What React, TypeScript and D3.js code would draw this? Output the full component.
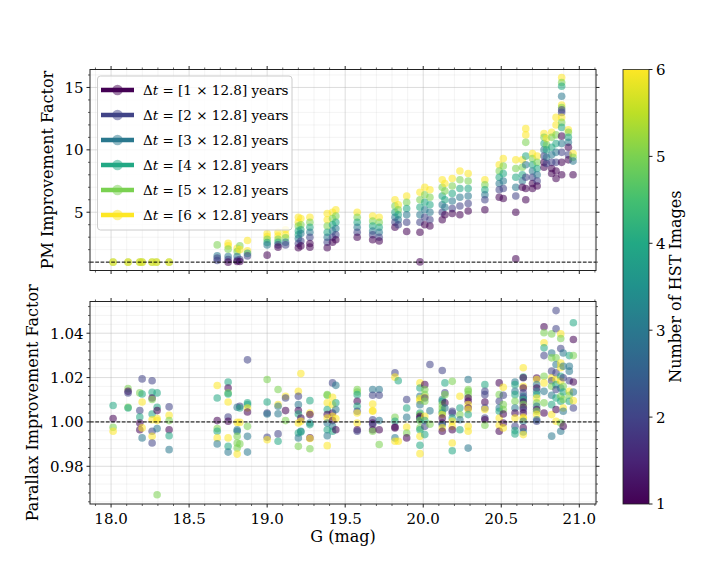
import React from "react";
import * as d3 from "d3";

// ---------- data ----------
const xTicks = [18.0, 18.5, 19.0, 19.5, 20.0, 20.5, 21.0];
const pmTicks = [5, 10, 15];
const pxTicks = [0.98, 1.0, 1.02, 1.04];
const cbTicks = [1, 2, 3, 4, 5, 6];
const legendSteps = [1, 2, 3, 4, 5, 6];

const pmG = [18.013, 18.109, 18.184, 18.199, 18.263, 18.291, 18.372, 18.68, 18.75, 18.808, 18.825, 18.874,
  19.0, 19.07, 19.118, 19.2, 19.216, 19.274, 19.385, 19.419, 19.44, 19.577, 19.676, 19.718, 19.819, 19.84,
  19.894, 19.979, 20.01, 20.043, 20.122, 20.139, 20.186, 20.235, 20.288, 20.395, 20.487, 20.513, 20.593,
  20.635, 20.657, 20.70, 20.73, 20.774, 20.79, 20.823, 20.851, 20.887, 20.93, 20.96];

const pmVals = [
  [1.0, 1.0], [1.0, 1.0], [1.0, 1.0], [1.0, 1.0], [1.0, 1.0], [1.0, 1.0], [1.0, 1.0],
  [2.38, 1.5, 1.32, 1.13],
  [2.52, 2.3, 2.04, 1.45, 1.2, 1.0],
  [2.1, 1.85, 1.45, 1.15, 1.05],
  [2.3, 2.0, 1.2, 1.05],
  [2.73, 1.9, 1.7, 1.5],
  [3.3, 3.05, 2.84, 2.57, 2.38, 1.56],
  [3.4, 3.1, 2.84, 2.6, 2.38, 2.2],
  [3.6, 3.2, 2.95, 2.6, 2.38],
  [4.6, 4.2, 3.9, 3.5, 3.2, 2.9, 2.5, 2.15],
  [4.5, 4.0, 3.6, 3.3, 2.7, 2.3],
  [4.6, 4.2, 3.8, 3.4, 3.0, 2.5, 2.2],
  [4.9, 4.4, 3.9, 3.4, 3.0, 2.6, 2.15],
  [5.0, 4.5, 4.0, 3.5, 3.0, 2.6],
  [5.2, 4.7, 4.2, 3.7, 3.2, 2.8],
  [5.0, 4.6, 4.2, 3.8, 3.4, 3.0],
  [4.7, 4.3, 3.9, 3.5, 3.2, 2.8],
  [4.6, 4.2, 3.8, 3.4, 3.0, 2.7],
  [6.0, 5.5, 5.0, 4.6, 4.2, 3.8],
  [5.6, 5.2, 4.8, 4.4, 4.0],
  [6.3, 5.8, 5.3, 4.8, 4.2, 3.45],
  [6.6, 6.0, 5.4, 4.8, 4.2, 3.4, 1.02],
  [7.0, 6.4, 5.8, 5.2, 4.6, 4.0],
  [6.8, 6.2, 5.6, 5.0, 4.4, 3.9],
  [7.6, 7.0, 6.3, 5.6, 5.0, 4.4],
  [7.3, 6.7, 6.0, 5.4, 4.8],
  [7.7, 7.1, 6.5, 5.9, 5.3, 4.9],
  [8.3, 7.6, 6.9, 6.2, 5.5, 4.8],
  [8.1, 7.5, 6.9, 6.3, 5.7, 5.1],
  [7.6, 7.2, 6.8, 6.4, 6.0, 5.2],
  [8.8, 8.3, 7.8, 7.3, 6.8, 6.2],
  [9.3, 8.7, 8.1, 7.5, 6.9, 6.1],
  [9.2, 8.5, 7.8, 7.0, 6.3, 5.0, 1.26],
  [9.2, 8.6, 8.0, 7.5, 7.0],
  [11.7, 11.2, 10.6, 9.5, 8.8, 7.8, 6.9, 6.0],
  [9.7, 9.3, 8.8, 8.3, 7.8, 7.3, 6.9],
  [9.5, 9.0, 8.5, 8.0, 7.5, 7.1],
  [11.3, 11.0, 10.5, 10.0, 9.5, 9.0, 8.6],
  [10.9, 10.4, 10.0, 9.4, 8.9],
  [11.4, 11.0, 10.2, 9.6, 9.0, 8.5, 8.1],
  [12.6, 12.0, 11.2, 10.5, 9.8, 9.0, 8.3, 7.7],
  [15.8, 15.4, 15.1, 14.3, 13.6, 13.4, 13.2, 13.0, 12.6, 12.2, 11.8, 11.1, 10.5, 9.8, 9.0, 8.0],
  [11.6, 11.4, 11.0, 10.6, 10.2, 9.6, 9.2],
  [9.7, 9.4, 9.1, 8.0],
];

const pmN = [
  [5, 6], [5, 6], [5, 6], [5, 6], [5, 6], [5, 6], [5, 6],
  [5, 3, 2, 2],
  [6, 6, 5, 3, 2, 1],
  [6, 5, 3, 2, 1],
  [5, 6, 2, 1],
  [6, 6, 4, 2],
  [6, 6, 5, 4, 3, 1],
  [6, 6, 5, 4, 2, 1],
  [6, 6, 5, 3, 2],
  [6, 6, 5, 4, 4, 3, 2, 1],
  [6, 5, 4, 3, 2, 1],
  [6, 5, 4, 3, 2, 1, 1],
  [6, 6, 5, 4, 3, 2, 1],
  [6, 5, 4, 3, 2, 1],
  [6, 5, 4, 3, 2, 1],
  [6, 5, 4, 3, 2, 1],
  [6, 5, 4, 3, 2, 1],
  [6, 5, 4, 3, 2, 1],
  [6, 5, 4, 3, 2, 1],
  [6, 5, 4, 3, 2],
  [6, 5, 4, 3, 2, 1],
  [6, 5, 4, 3, 2, 1, 1],
  [6, 5, 4, 3, 2, 1],
  [6, 5, 4, 3, 2, 1],
  [6, 5, 4, 3, 2, 1],
  [6, 5, 4, 3, 1],
  [6, 5, 4, 3, 2, 1],
  [6, 5, 4, 3, 2, 1],
  [6, 5, 4, 3, 2, 1],
  [6, 5, 4, 3, 2, 1],
  [6, 5, 4, 3, 2, 1],
  [6, 5, 4, 3, 2, 1],
  [6, 5, 4, 3, 2, 1, 1],
  [6, 5, 4, 3, 1],
  [6, 6, 5, 4, 3, 2, 1, 1],
  [6, 5, 4, 3, 2, 1, 1],
  [6, 5, 4, 3, 2, 1],
  [6, 5, 4, 3, 2, 1, 1],
  [6, 5, 4, 3, 2],
  [6, 5, 4, 3, 2, 1, 1],
  [6, 6, 5, 4, 3, 2, 1, 1],
  [6, 5, 4, 3, 6, 5, 2, 2, 6, 5, 4, 1, 3, 2, 1, 1],
  [6, 5, 4, 3, 1, 2, 1],
  [6, 5, 3, 1],
];

const pxG = [18.013, 18.109, 18.184, 18.199, 18.263, 18.295, 18.372, 18.68, 18.75, 18.808, 18.825, 18.874,
  19.0, 19.07, 19.118, 19.2, 19.216, 19.274, 19.385, 19.419, 19.44, 19.577, 19.676, 19.718, 19.819, 19.84,
  19.894, 19.979, 20.01, 20.043, 20.122, 20.139, 20.186, 20.235, 20.288, 20.395, 20.487, 20.513, 20.588,
  20.641, 20.727, 20.774, 20.823, 20.851, 20.881, 20.897, 20.936, 20.962];

const pxVals = [
  [1.0074, 1.0015, 0.9976, 0.9958],
  [1.0150, 1.0138, 1.0131, 1.0066, 1.0063],
  [1.0131, 1.0051, 1.0022, 0.9995, 0.9965],
  [1.0194, 1.0126, 1.0090, 0.9973, 0.9928],
  [1.0186, 1.0134, 1.0108, 1.0101, 1.0036, 1.0010, 0.9958, 0.9935, 0.9905],
  [1.0131, 1.0066, 1.0051, 1.0015, 1.0006, 0.9970, 0.9672],
  [1.0068, 1.0030, 1.0006, 0.9965, 0.9938, 0.9875],
  [1.0164, 1.0108, 1.0006, 0.9970, 0.9958, 0.9928, 0.9901],
  [1.0180, 1.0153, 1.0131, 1.0126, 1.0090, 1.0022, 1.0003, 0.9928, 0.9890, 0.9864],
  [1.0066, 0.9998, 0.9965, 0.9958, 0.9935, 0.9905, 0.9882, 0.9855],
  [1.0071, 1.0063, 0.9998, 0.9901],
  [1.0280, 1.0086, 1.0078, 1.0063, 1.0045, 0.9980, 0.9935, 0.9864],
  [1.0191, 1.0090, 1.0040, 1.0036, 0.9931, 0.9920],
  [1.0146, 1.0078, 1.0071, 1.0037, 0.9946, 0.9913],
  [1.0116, 1.0108, 1.0051, 1.0006],
  [1.0138, 1.0116, 1.0078, 1.0051, 1.0036, 0.9995, 0.9950, 0.9928, 0.9890],
  [1.0218, 1.0018, 1.0003, 0.9958, 0.9955],
  [1.0096, 1.0040, 1.0033, 0.9995, 0.9988, 0.9928, 0.9925, 0.9879],
  [1.0123, 1.0120, 1.0086, 1.0056, 1.0033, 1.0018, 0.9995, 0.9965, 0.9938, 0.9893],
  [1.0176, 1.0111, 1.0078, 1.0040, 1.0025, 1.0006, 0.9980, 0.9958],
  [1.0165, 1.0086, 1.0056, 1.0015, 0.9965],
  [1.0146, 1.0135, 1.0123, 1.0093, 1.0071, 1.0048, 1.0040, 0.9995, 0.9965, 0.9958],
  [1.0146, 1.0120, 1.0081, 1.0051, 1.0048, 1.0010, 0.9995, 0.9988, 0.9965, 0.9958],
  [1.0146, 1.0120, 1.0006, 0.9965, 0.9898],
  [1.0221, 1.0202, 1.0021, 1.0003, 0.9977, 0.9973, 0.9928, 0.9913],
  [1.0186, 0.9913],
  [1.0101, 1.0063, 1.0021, 0.9977, 0.9950, 0.9928],
  [1.0176, 1.0153, 1.0116, 1.0105, 1.0096, 1.0078, 1.0040, 1.0033, 1.0025, 1.0018, 1.0010, 1.0006, 0.9973, 0.9965, 0.9935, 0.9895, 0.9857],
  [1.0168, 1.0146, 1.0123, 1.0111, 1.0108, 1.0093, 1.0025, 1.0006, 0.9980, 0.9943],
  [1.0259, 1.0050, 0.9990],
  [1.0232, 1.0101, 1.0093, 1.0078, 1.0063, 1.0048, 1.0040, 1.0033, 1.0018, 0.9995, 0.9988, 0.9973, 0.9958],
  [1.0176, 1.0131, 1.0123, 1.0086, 1.0063],
  [1.0183, 1.0048, 1.0040, 1.0018, 1.0003, 0.9980, 0.9965, 0.9905, 0.9870],
  [1.0116, 1.0063, 1.0033, 1.0010, 0.9965],
  [1.0191, 1.0146, 1.0138, 1.0123, 1.0108, 1.0093, 1.0078, 1.0063, 1.0056, 1.0033, 0.9980, 0.9958, 0.9882],
  [1.0168, 1.0138, 1.0123, 1.0090, 1.0063, 1.0056, 1.0018, 1.0010, 0.9985],
  [1.0176, 1.0123, 1.0093, 1.0063, 1.0048, 1.0018, 0.9985, 0.9958],
  [1.0156, 1.0120, 1.0078, 1.0056, 1.0036, 0.9995, 0.9973],
  [1.0180, 1.0168, 1.0138, 1.0123, 1.0093, 1.0063, 1.0040, 1.0018, 0.9980, 0.9961, 0.9946],
  [1.0244, 1.0202, 1.0199, 1.0161, 1.0153, 1.0131, 1.0116, 1.0108, 1.0101, 1.0090, 1.0078, 1.0066, 1.0056, 1.0040, 1.0021, 1.0015, 1.0003, 0.9973, 0.9955, 0.9943],
  [1.0198, 1.0191, 1.0168, 1.0153, 1.0138, 1.0123, 1.0108, 1.0086, 1.0071, 1.0056, 1.0048, 1.0033, 1.0010, 1.0003],
  [1.0429, 1.0402, 1.0357, 1.0334, 1.0299, 1.0206, 1.0176, 1.0138, 1.0086, 1.0040],
  [1.0397, 1.0311, 1.0289, 1.0229, 1.0199, 1.0186, 1.0161, 1.0120, 1.0078, 1.0033, 0.9936],
  [1.0502, 1.0420, 1.0289, 1.0259, 1.0221, 1.0191, 1.0168, 1.0146, 1.0108, 1.0056, 1.0003],
  [1.0397, 1.0376, 1.0331, 1.0266, 1.0244, 1.0206, 1.0183, 1.0153, 1.0116, 1.0093, 0.9995, 0.9958],
  [1.0311, 1.0251, 1.0199, 1.0161, 1.0135, 1.0101, 1.0063, 1.0048, 0.9980],
  [1.0299, 1.0251, 1.0229, 1.0186, 1.0138, 1.0120, 1.0093],
  [1.0447, 1.0372, 1.0299, 1.0180, 1.0135, 1.0096, 1.0063],
];

const pxN = [
  [4, 1, 5, 6],
  [5, 1, 2, 5, 4],
  [5, 2, 4, 1, 1],
  [2, 4, 6, 6, 3],
  [2, 4, 1, 5, 4, 6, 2, 6, 2],
  [4, 4, 1, 6, 6, 3, 5],
  [2, 6, 5, 1, 4, 3],
  [6, 4, 1, 5, 4, 6, 3],
  [4, 1, 5, 4, 6, 2, 1, 6, 4, 3],
  [3, 6, 3, 3, 5, 5, 5, 6],
  [2, 4, 6, 5],
  [2, 4, 4, 6, 1, 5, 3, 3],
  [5, 4, 2, 3, 2, 6],
  [5, 6, 3, 3, 2, 4],
  [6, 2, 1, 5],
  [6, 2, 3, 1, 4, 6, 4, 3, 5],
  [6, 1, 6, 3, 4],
  [4, 6, 1, 3, 4, 1, 6, 5],
  [5, 5, 6, 4, 1, 6, 3, 4, 3, 6],
  [2, 6, 6, 1, 6, 1, 3, 4],
  [3, 4, 3, 6, 1],
  [5, 5, 4, 1, 4, 2, 6, 6, 1, 2],
  [3, 2, 6, 6, 6, 2, 1, 2, 1, 5],
  [3, 2, 3, 1, 5],
  [2, 6, 5, 4, 1, 1, 3, 6],
  [4, 6],
  [2, 4, 3, 6, 5, 1],
  [6, 4, 3, 6, 6, 3, 4, 5, 1, 1, 3, 5, 5, 4, 6, 4, 6],
  [1, 5, 5, 6, 2, 5, 6, 4, 2, 4],
  [2, 3, 5],
  [2, 3, 4, 5, 5, 5, 4, 6, 1, 1, 3, 6, 1],
  [4, 2, 5, 1, 3],
  [5, 2, 2, 4, 6, 6, 1, 6, 4],
  [6, 4, 5, 3, 4],
  [3, 5, 5, 5, 1, 1, 6, 1, 6, 4, 6, 6, 3],
  [4, 2, 2, 1, 2, 6, 2, 1, 5],
  [1, 5, 2, 3, 4, 6, 6, 1],
  [6, 2, 5, 5, 1, 1, 6],
  [3, 4, 3, 4, 5, 3, 1, 6, 2, 4, 4],
  [6, 4, 1, 6, 1, 2, 3, 2, 4, 1, 5, 1, 2, 1, 6, 6, 3, 1, 3, 6],
  [1, 6, 3, 1, 3, 4, 6, 5, 3, 1, 5, 6, 3, 2],
  [1, 5, 6, 4, 2, 5, 6, 3, 5, 1],
  [5, 3, 5, 2, 6, 2, 5, 3, 4, 6, 3],
  [2, 2, 5, 3, 2, 6, 4, 2, 4, 1, 6],
  [6, 5, 2, 6, 6, 4, 6, 3, 5, 4, 5, 3],
  [3, 3, 2, 5, 4, 5, 6, 3, 1],
  [4, 3, 3, 2, 6, 5, 4],
  [4, 1, 5, 1, 3, 6, 2],
];

// ---------- layout ----------
const W = 720;
const H = 576;
const L = 90;
const R = 596;
const T1 = 69.5;
const B1 = 270.5;
const T2 = 301.5;
const B2 = 504;
const CBX = 623;
const CBW = 26;
const FONT = "DejaVu Serif";

const color = (n: number) => d3.interpolateViridis((n - 1) / 5);

type Pt = { g: number; v: number; n: number };
function flatten(gs: number[], vals: number[][], ns: number[][]): Pt[] {
  const out: Pt[] = [];
  gs.forEach((g, i) => {
    vals[i].forEach((v, j) => out.push({ g, v, n: ns[i][j] }));
  });
  return out;
}

function Panel({ top, bottom, y, majors, minors, pts, fmt, showX }: any) {
  const x = d3.scaleLinear().domain([17.865, 21.107]).range([L, R]);
  const xMinor = d3.range(179, 212).map((d) => d / 10).filter((d) => Math.abs(d * 2 - Math.round(d * 2)) > 1e-6);
  const tl = 3.5;
  const ml = 2;
  return (
    <g>
      {xMinor.map((d) => (
        <line key={"mgx" + d} x1={x(d)} x2={x(d)} y1={top} y2={bottom} stroke="#b0b0b0" strokeOpacity={0.18} strokeWidth={0.8} />
      ))}
      {minors.map((d: number) => (
        <line key={"mgy" + d} x1={L} x2={R} y1={y(d)} y2={y(d)} stroke="#b0b0b0" strokeOpacity={0.18} strokeWidth={0.8} />
      ))}
      {xTicks.map((d) => (
        <line key={"gx" + d} x1={x(d)} x2={x(d)} y1={top} y2={bottom} stroke="#b0b0b0" strokeOpacity={0.55} strokeWidth={0.8} />
      ))}
      {majors.map((d: number) => (
        <line key={"gy" + d} x1={L} x2={R} y1={y(d)} y2={y(d)} stroke="#b0b0b0" strokeOpacity={0.55} strokeWidth={0.8} />
      ))}
      {pts.map((p: Pt, i: number) => (
        <circle key={i} cx={x(p.g)} cy={y(p.v)} r={3.8} fill={color(p.n)} fillOpacity={0.55} />
      ))}
      <line x1={L} x2={R} y1={y(1)} y2={y(1)} stroke="#000" strokeWidth={1} strokeDasharray="3.7,1.6" />
      <rect x={L} y={top} width={R - L} height={bottom - top} fill="none" stroke="#222" strokeWidth={1} />
      {xTicks.map((d) => (
        <g key={"tx" + d}>
          <line x1={x(d)} x2={x(d)} y1={bottom} y2={bottom + tl} stroke="#222" strokeWidth={1} />
          <line x1={x(d)} x2={x(d)} y1={top} y2={top - tl} stroke="#222" strokeWidth={1} />
          {showX && (
            <text x={x(d)} y={bottom + 19.5} textAnchor="middle" fontFamily={FONT} fontSize={15} fill="#000">
              {d.toFixed(1)}
            </text>
          )}
        </g>
      ))}
      {xMinor.map((d) => (
        <g key={"mtx" + d}>
          <line x1={x(d)} x2={x(d)} y1={bottom} y2={bottom + ml} stroke="#222" strokeWidth={0.7} />
          <line x1={x(d)} x2={x(d)} y1={top} y2={top - ml} stroke="#222" strokeWidth={0.7} />
        </g>
      ))}
      {majors.map((d: number) => (
        <g key={"ty" + d}>
          <line x1={L} x2={L - tl} y1={y(d)} y2={y(d)} stroke="#222" strokeWidth={1} />
          <line x1={R} x2={R + tl} y1={y(d)} y2={y(d)} stroke="#222" strokeWidth={1} />
          <text x={L - 6.5} y={y(d)} dy="0.36em" textAnchor="end" fontFamily={FONT} fontSize={15} fill="#000">
            {fmt(d)}
          </text>
        </g>
      ))}
      {minors.map((d: number) => (
        <g key={"mty" + d}>
          <line x1={L} x2={L - ml} y1={y(d)} y2={y(d)} stroke="#222" strokeWidth={0.7} />
          <line x1={R} x2={R + ml} y1={y(d)} y2={y(d)} stroke="#222" strokeWidth={0.7} />
        </g>
      ))}
    </g>
  );
}

export default function App() {
  const yPM = d3.scaleLinear().domain([0.33, 16.44]).range([B1, T1]);
  const yPX = d3.scaleLinear().domain([0.963, 1.0543]).range([B2, T2]);
  const pmMinor = d3.range(1, 17).filter((d) => d % 5 !== 0);
  const pxMinor = d3.range(0, 23).map((i) => +(0.964 + i * 0.004).toFixed(3)).filter((d) => Math.round(d * 1000) % 20 !== 0);
  const pmPts = flatten(pmG, pmVals, pmN);
  const pxPts = flatten(pxG, pxVals, pxN);
  const cbY = d3.scaleLinear().domain([1, 6]).range([B2, T1]);
  const stops = d3.range(0, 11).map((i) => i / 10);

  return (
    <svg width={W} height={H} viewBox={`0 0 ${W} ${H}`} style={{ display: "block", position: "absolute", left: 0, top: 0 }}>
      <defs>
        <linearGradient id="vir" x1="0" y1="1" x2="0" y2="0">
          {stops.map((s) => (
            <stop key={s} offset={s} stopColor={d3.interpolateViridis(s)} />
          ))}
        </linearGradient>
      </defs>
      <rect x={0} y={0} width={W} height={H} fill="#fff" />

      <Panel top={T1} bottom={B1} y={yPM} majors={pmTicks} minors={pmMinor} pts={pmPts} fmt={(d: number) => String(d)} showX={false} />
      <Panel top={T2} bottom={B2} y={yPX} majors={pxTicks} minors={pxMinor} pts={pxPts} fmt={(d: number) => d.toFixed(2)} showX={true} />

      <rect x={97.5} y={76} width={194.5} height={154} rx={3} fill="#fff" fillOpacity={0.8} stroke="#cccccc" strokeWidth={1} />
      {legendSteps.map((k, i) => {
        const cy = 90 + i * 25;
        return (
          <g key={"lg" + k}>
            <line x1={101} x2={134} y1={cy} y2={cy} stroke={color(k)} strokeWidth={4.7} />
            <circle cx={117.5} cy={cy} r={5.3} fill={color(k)} fillOpacity={0.5} />
            <text x={143} y={cy + 4.8} fontFamily={FONT} fontSize={13.5} fill="#000">
              <tspan>Δ</tspan>
              <tspan fontStyle="italic">t</tspan>
              <tspan> = [{k} × 12.8] years</tspan>
            </text>
          </g>
        );
      })}

      <text transform={`translate(53,${(T1 + B1) / 2}) rotate(-90)`} textAnchor="middle" fontFamily={FONT} fontSize={16} fill="#000">
        PM Improvement Factor
      </text>
      <text transform={`translate(38,${(T2 + B2) / 2}) rotate(-90)`} textAnchor="middle" fontFamily={FONT} fontSize={16} fill="#000">
        Parallax Improvement Factor
      </text>
      <text x={(L + R) / 2} y={542} textAnchor="middle" fontFamily={FONT} fontSize={16} fill="#000">
        G (mag)
      </text>

      <rect x={CBX} y={T1} width={CBW} height={B2 - T1} fill="url(#vir)" stroke="#222" strokeWidth={0.8} />
      {cbTicks.map((t) => (
        <g key={"cb" + t}>
          <line x1={CBX + CBW} x2={CBX + CBW + 3.5} y1={cbY(t)} y2={cbY(t)} stroke="#222" strokeWidth={1} />
          <text x={CBX + CBW + 7} y={cbY(t)} dy="0.36em" fontFamily={FONT} fontSize={15} fill="#000">
            {t}
          </text>
        </g>
      ))}
      <text transform={`translate(681,${(T1 + B2) / 2}) rotate(-90)`} textAnchor="middle" fontFamily={FONT} fontSize={16} fill="#000">
        Number of HST Images
      </text>
    </svg>
  );
}
